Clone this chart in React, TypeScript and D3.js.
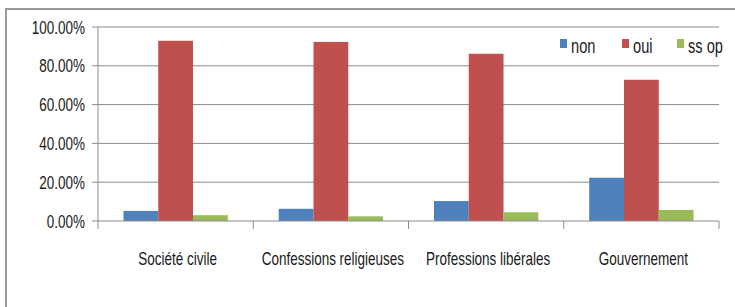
import React from "react";
import * as d3 from "d3";

const categories = ["Société civile", "Confessions religieuses", "Professions libérales", "Gouvernement"];
const seriesNames = ["non", "oui", "ss op"];
const nonValues = [5.2, 6.3, 10.3, 22.3];
const ouiValues = [92.9, 92.3, 86.2, 72.8];
const ssopValues = [3.0, 2.4, 4.5, 5.7];
const yTicks = [0, 20, 40, 60, 80, 100];

const colors = ["#4F81BD", "#C0504D", "#9BBB59"];
const FONT = "'Liberation Sans', Arial, sans-serif";
const SQUEEZE = 0.75; // condensed look of the original font

// narrow text: a normal font squeezed horizontally around its anchor
const NarrowText = ({ x, y, anchor, size, children }: any) => (
  <g transform={`translate(${x},${y}) scale(${SQUEEZE},1)`}>
    <text x={0} y={0} textAnchor={anchor} fontFamily={FONT} fontSize={size} fill="#1a1a1a">
      {children}
    </text>
  </g>
);

const App = () => {
  const width = 735;
  const height = 307;
  const left = 98;
  const right = 719;
  const top = 27;
  const bottom = 221;

  const seriesValues = [nonValues, ouiValues, ssopValues];

  const x0 = d3.scaleBand<string>().domain(categories).range([left, right]).padding(0);
  const bw = x0.bandwidth();
  const x1 = d3.scaleBand<string>().domain(seriesNames).range([bw * 0.164, bw * 0.836]).padding(0);
  const y = d3.scaleLinear().domain([0, 100]).range([bottom, top]);

  const fmt = (v: number) => v.toFixed(2) + "%";

  return (
    <div style={{ position: "absolute", left: 0, top: 0 }}>
      <svg width={width} height={height} style={{ display: "block", background: "#fff" }}>
        <rect x={6} y={9} width={width + 10} height={height + 10} fill="#fff" stroke="#9a9a9a" strokeWidth={2} />

        {yTicks.map((t) => (
          <g key={t}>
            {t > 0 && (
              <line x1={left} x2={right} y1={y(t)} y2={y(t)} stroke="#8c8c8c" strokeWidth={1} />
            )}
            <line x1={left - 6} x2={left} y1={y(t)} y2={y(t)} stroke="#8c8c8c" strokeWidth={1} />
            <NarrowText x={85} y={y(t) + 6.5} anchor="end" size={18}>
              {fmt(t)}
            </NarrowText>
          </g>
        ))}

        {categories.map((c, i) => (
          <g key={c} transform={`translate(${x0(c)},0)`}>
            {seriesNames.map((s, j) => (
              <rect
                key={s}
                x={x1(s)}
                y={y(seriesValues[j][i])}
                width={x1.bandwidth()}
                height={bottom - y(seriesValues[j][i])}
                fill={colors[j]}
              />
            ))}
          </g>
        ))}

        <line x1={left} x2={left} y1={top} y2={bottom} stroke="#8c8c8c" strokeWidth={1} />
        <line x1={left} x2={right} y1={bottom} y2={bottom} stroke="#8c8c8c" strokeWidth={1} />
        {[...categories.map((c) => x0(c) as number), right].map((xv, i) => (
          <line key={i} x1={xv} x2={xv} y1={bottom} y2={bottom + 8} stroke="#8c8c8c" strokeWidth={1} />
        ))}

        {categories.map((c) => (
          <NarrowText key={c} x={(x0(c) as number) + bw / 2 + 2} y={265} anchor="middle" size={18}>
            {c}
          </NarrowText>
        ))}

        {seriesNames.map((s, j) => {
          const lx = [560, 622, 677][j];
          return (
            <g key={s}>
              <rect x={lx} y={39} width={7} height={9} fill={colors[j]} />
              <NarrowText x={lx + 11} y={52.5} anchor="start" size={19.5}>
                {s}
              </NarrowText>
            </g>
          );
        })}
      </svg>
    </div>
  );
};

export default App;
